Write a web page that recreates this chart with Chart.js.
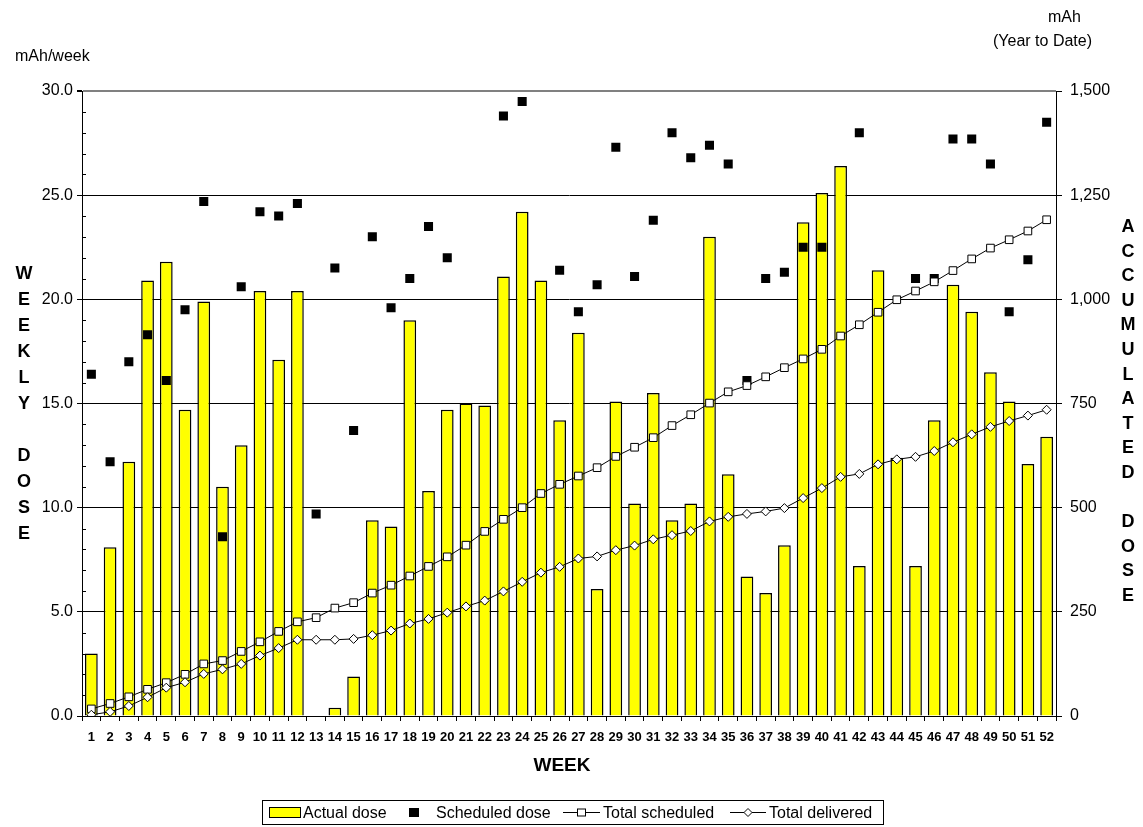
<!DOCTYPE html>
<html>
<head>
<meta charset="utf-8">
<script src="https://cdn.jsdelivr.net/npm/chart.js@4.4.1/dist/chart.umd.min.js"></script>
<style>
  body { margin: 0; background: #fff; font-family: Arial, "Liberation Sans", sans-serif; }
  #wrap { position: relative; width: 1143px; height: 827px; overflow: hidden; }
  #myChart { position: absolute; left: 0; top: 0; }
  .t { position: absolute; font-size: 16px; line-height: 20px; color: #000; white-space: nowrap; }
  .vert { position: absolute; font-weight: bold; font-size: 18px; text-align: center; width: 24px; color: #000; }
  #legend { position: absolute; left: 262px; top: 800px; width: 622px; height: 25px; border: 1px solid #000; box-sizing: border-box; }
  #legend .lt { position: absolute; top: 0; font-size: 16px; line-height: 23px; white-space: nowrap; }
  #legend svg { position: absolute; }
</style>
</head>
<body>
<div id="wrap">
  <canvas id="myChart" width="1143" height="827"></canvas>
  <div class="t" style="left:15px;top:46px">mAh/week</div>
  <div class="t" style="left:1048px;top:7px">mAh</div>
  <div class="t" style="left:993px;top:31px">(Year to Date)</div>
  <div class="vert" style="left:12px;top:260px;line-height:26px">W<br>E<br>E<br>K<br>L<br>Y<br>&nbsp;<br>D<br>O<br>S<br>E</div>
  <div class="vert" style="left:1116px;top:214px;line-height:24.6px">A<br>C<br>C<br>U<br>M<br>U<br>L<br>A<br>T<br>E<br>D<br>&nbsp;<br>D<br>O<br>S<br>E</div>
  <div class="t" style="left:522px;top:754px;width:80px;text-align:center;font-weight:bold;font-size:19px;line-height:22px">WEEK</div>
  <div id="legend">
    <svg style="left:6px;top:6px" width="32" height="11"><rect x="0.5" y="0.5" width="31" height="10" fill="#ffff00" stroke="#000"/></svg>
    <span class="lt" style="left:40px">Actual dose</span>
    <svg style="left:146px;top:7px" width="10" height="9"><rect x="0" y="0" width="10" height="9" fill="#000"/></svg>
    <span class="lt" style="left:173px">Scheduled dose</span>
    <svg style="left:300px;top:5px" width="37" height="13"><line x1="0" y1="6.5" x2="37" y2="6.5" stroke="#000"/><rect x="14.5" y="3" width="8" height="7" fill="#fff" stroke="#000"/></svg>
    <span class="lt" style="left:340px">Total scheduled</span>
    <svg style="left:467px;top:5px" width="36" height="13"><line x1="0" y1="6.5" x2="36" y2="6.5" stroke="#000"/><path d="M18 2.5 L22 6.5 L18 10.5 L14 6.5 Z" fill="#fff" stroke="#000"/></svg>
    <span class="lt" style="left:506px">Total delivered</span>
  </div>
</div>
<script>
const weeks = ['1','2','3','4','5','6','7','8','9','10','11','12','13','14','15','16','17','18','19','20','21','22','23','24','25','26',
  '27','28','29','30','31','32','33','34','35','36','37','38','39','40','41','42','43','44','45','46','47','48','49','50','51','52'];

// mAh per week
const actualDose = [3.0, 8.1, 12.2, 20.9, 21.8, 14.7, 19.9, 11.0, 13.0, 20.4, 17.1, 20.4, null, 0.4, 1.9, 9.4, 9.1, 19.0, 10.8, 14.7,
  15.0, 14.9, 21.1, 24.2, 20.9, 14.2, 18.4, 6.1, 15.1, 10.2, 15.5, 9.4, 10.2, 23.0, 11.6, 6.7, 5.9, 8.2, 23.7, 25.1,
  26.4, 7.2, 21.4, 12.4, 7.2, 14.2, 20.7, 19.4, 16.5, 15.1, 12.1, 13.4];

// above 30 the marks fall off the top of the plot
const scheduledDose = [16.4, 12.2, 17.0, 18.3, 16.1, 19.5, 24.7, 8.6, 20.6, 24.2, 24.0, 24.6, 9.7, 21.5, 13.7, 23.0, 19.6, 21.0, 23.5, 22.0,
  31.0, 31.0, 28.8, 29.5, 32.0, 21.4, 19.4, 20.7, 27.3, 21.1, 23.8, 28.0, 26.8, 27.4, 26.5, 16.1, 21.0, 21.3, 22.5, 22.5,
  31.0, 28.0, 30.8, 30.8, 21.0, 21.0, 27.7, 27.7, 26.5, 19.4, 21.9, 28.5];

// mAh year to date
const totalScheduled = [17, 30, 46, 64, 80, 100, 125, 133, 155, 178, 203, 226, 236, 259, 272, 295, 314, 336, 359, 382,
  410, 443, 472, 500, 534, 556, 576, 596, 623, 645, 668, 697, 723, 751, 778, 793, 814, 836, 857, 880,
  912, 939, 969, 999, 1020, 1042, 1069, 1097, 1123, 1143, 1164, 1191];

const totalDelivered = [3, 10, 24, 45, 68, 81, 101, 112, 125, 145, 163, 183, 183, 183, 185, 194, 205, 222, 233, 248,
  263, 277, 299, 322, 344, 358, 378, 383, 398, 409, 424, 434, 444, 467, 478, 485, 491, 499, 523, 547,
  574, 581, 604, 616, 622, 636, 657, 676, 694, 708, 721, 735];

Chart.defaults.font.family = 'Arial, "Liberation Sans", sans-serif';
Chart.defaults.color = '#000';

// small inward ticks on the left axis, one per mAh
const minorTicks = {
  id: 'minorTicks',
  afterDraw(chart) {
    const y = chart.scales.y;
    const c = chart.ctx;
    const left = chart.chartArea.left;
    c.save();
    c.strokeStyle = '#000';
    c.lineWidth = 1;
    for (let v = y.min; v <= y.max; v++) {
      if (v % 5 === 0) continue;
      const py = Math.round(y.getPixelForValue(v)) + 0.5;
      c.beginPath();
      c.moveTo(left, py);
      c.lineTo(left + 4, py);
      c.stroke();
    }
    c.restore();
  }
};

const ctx = document.getElementById('myChart');
const myChart = new Chart(ctx, {
  data: {
    labels: weeks,
    datasets: [
      {
        type: 'line',
        label: 'Total delivered',
        data: totalDelivered,
        yAxisID: 'y1',
        borderColor: '#000',
        borderWidth: 1,
        pointStyle: 'rectRot',
        pointRadius: 4.5,
        pointBackgroundColor: '#fff',
        pointBorderColor: '#000',
        pointBorderWidth: 1,
        order: 1
      },
      {
        type: 'line',
        label: 'Total scheduled',
        data: totalScheduled,
        yAxisID: 'y1',
        borderColor: '#000',
        borderWidth: 1,
        pointStyle: 'rect',
        pointRadius: 5.4,
        pointBackgroundColor: '#fff',
        pointBorderColor: '#000',
        pointBorderWidth: 1,
        order: 2
      },
      {
        type: 'line',
        label: 'Scheduled dose',
        data: scheduledDose,
        yAxisID: 'y',
        showLine: false,
        pointStyle: 'rect',
        pointRadius: 6.4,
        pointBackgroundColor: '#000',
        pointBorderColor: '#000',
        pointBorderWidth: 0,
        order: 3
      },
      {
        type: 'bar',
        label: 'Actual dose',
        data: actualDose,
        yAxisID: 'y',
        backgroundColor: '#ffff00',
        borderColor: '#000',
        borderWidth: 1.5,
        borderSkipped: 'bottom',
        barPercentage: 0.68,
        categoryPercentage: 1,
        order: 10
      }
    ]
  },
  options: {
    responsive: false,
    animation: false,
    layout: { padding: { top: 91, left: 0, right: 0, bottom: 0 } },
    plugins: {
      legend: { display: false },
      tooltip: { enabled: false }
    },
    scales: {
      x: {
        grid: { offset: true, drawOnChartArea: false, color: '#000', tickLength: 5 },
        border: { color: '#000', width: 1 },
        ticks: { color: '#000', font: { size: 13, weight: 'bold' }, maxRotation: 0, autoSkip: false, padding: 9 },
        afterFit: function (scale) { scale.height = 111; }
      },
      y: {
        position: 'left',
        min: 0,
        max: 30,
        ticks: {
          stepSize: 5,
          padding: 4,
          font: { size: 16 },
          callback: function (val) { return val.toFixed(1); }
        },
        grid: {
          color: function (c) { return c.tick && c.tick.value === 30 ? '#808080' : '#000'; },
          lineWidth: function (c) { return c.tick && c.tick.value === 30 ? 2 : 1; },
          tickColor: '#000',
          tickLength: 5
        },
        border: { color: '#000', width: 1 },
        afterFit: function (scale) { scale.width = 82; }
      },
      y1: {
        position: 'right',
        min: 0,
        max: 1500,
        ticks: {
          stepSize: 250,
          padding: 8,
          font: { size: 16 },
          callback: function (val) { return val.toLocaleString('en-US'); }
        },
        grid: { drawOnChartArea: false, color: '#000', tickLength: 6 },
        border: { color: '#000', width: 1 },
        afterFit: function (scale) { scale.width = 87; }
      }
    }
  },
  plugins: [minorTicks]
});
</script>
</body>
</html>
